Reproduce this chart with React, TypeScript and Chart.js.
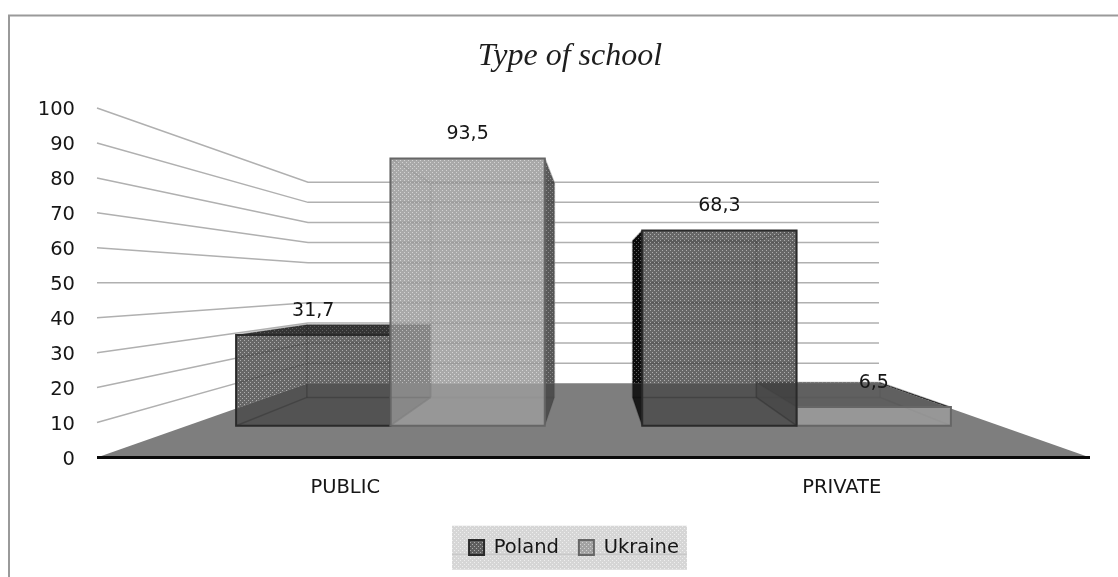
import { useEffect, useRef } from "react";
import { Chart, registerables } from "chart.js";

Chart.register(...registerables);

const categories = ["PUBLIC", "PRIVATE"];
const polandValues = [31.7, 68.3];
const ukraineValues = [93.5, 6.5];
const yTicks = { min: 0, max: 100, stepSize: 10 };

// Depth of each plane as a scale factor towards the vanishing point.
const WALL_DEPTH = 0.575;
const BAR_FRONT_DEPTH = 0.818;
const BAR_BACK_DEPTH = 0.656;
const HORIZON_VALUE = 50;
const LEGEND_SHIFT = 4;

const TEXT = "#161616";
const SANS = "'DejaVu Sans', sans-serif";

type Pt = [number, number];

// Small repeating stipple used where a face stands against the white background.
function stipple(base: string, dot: string) {
  const cell = document.createElement("canvas");
  cell.width = 4;
  cell.height = 4;
  const c = cell.getContext("2d")!;
  c.fillStyle = base;
  c.fillRect(0, 0, 4, 4);
  c.clearRect(0, 0, 1, 1);
  c.clearRect(2, 2, 1, 1);
  c.fillStyle = dot;
  c.fillRect(0, 0, 1, 1);
  c.fillRect(2, 2, 1, 1);
  return c.createPattern(cell, "repeat")!;
}

function tracePath(ctx: CanvasRenderingContext2D, pts: Pt[]) {
  ctx.beginPath();
  pts.forEach(([x, y], i) => (i ? ctx.lineTo(x, y) : ctx.moveTo(x, y)));
  ctx.closePath();
}

const perspective = {
  id: "perspective",
  afterLayout(chart: any) {
    // Tick labels stick out past the narrow axis box; widen the box they are clipped to.
    chart.scales.y.left = 20;
    // The legend sits slightly right of the title's centre line.
    const legend = chart.legend;
    legend.left += LEGEND_SHIFT;
    legend.right += LEGEND_SHIFT;
    legend.legendHitBoxes.forEach((b: any) => {
      b.left += LEGEND_SHIFT;
    });
  },
  beforeDraw(chart: any, _args: any, opts: any) {
    const { ctx, width, height } = chart;
    ctx.save();
    ctx.fillStyle = "#ffffff";
    ctx.fillRect(0, 0, width, height);
    ctx.strokeStyle = "#9a9a9a";
    ctx.lineWidth = 2;
    ctx.beginPath();
    ctx.moveTo(9, height);
    ctx.lineTo(9, 15.5);
    ctx.lineTo(width, 15.5);
    ctx.stroke();

    // Panel behind the legend entries.
    const boxes = chart.legend.legendHitBoxes;
    const left = Math.min(...boxes.map((b: any) => b.left)) - 17;
    const right = Math.max(...boxes.map((b: any) => b.left + b.width)) + 8;
    const top = boxes[0].top - 12;
    ctx.fillStyle = opts.panel;
    ctx.fillRect(left, top, right - left, 44);
    ctx.strokeStyle = "#c2c2c2";
    ctx.lineWidth = 1;
    ctx.beginPath();
    ctx.moveTo(left, top + 28.5);
    ctx.lineTo(right, top + 28.5);
    ctx.stroke();
    ctx.restore();
  },
  beforeDatasetsDraw(chart: any, _args: any, opts: any) {
    const { ctx, chartArea, scales } = chart;
    const yScale = scales.y;
    const vx = (chartArea.left + chartArea.right) / 2;
    const vy = yScale.getPixelForValue(HORIZON_VALUE);
    const project = (x: number, y: number, s: number): Pt => [vx + s * (x - vx), vy + s * (y - vy)];
    const base = yScale.getPixelForValue(0);

    ctx.save();

    // Side wall and back wall rules, one per value tick.
    ctx.strokeStyle = "#b0b0b0";
    ctx.lineWidth = 1.5;
    yScale.ticks.forEach((t: any) => {
      if (t.value === 0) return;
      const y = yScale.getPixelForValue(t.value);
      const a = project(chartArea.left, y, WALL_DEPTH);
      const b = project(chartArea.right, y, WALL_DEPTH);
      ctx.beginPath();
      ctx.moveTo(chartArea.left, y);
      ctx.lineTo(a[0], a[1]);
      ctx.lineTo(b[0], b[1]);
      ctx.stroke();
    });

    // Floor.
    const floor: Pt[] = [
      [chartArea.left, base],
      project(chartArea.left, base, WALL_DEPTH),
      project(chartArea.right, base, WALL_DEPTH),
      [chartArea.right, base],
    ];
    ctx.fillStyle = "#7e7e7e";
    tracePath(ctx, floor);
    ctx.fill();

    // A face is stippled against the white background and flat over the floor.
    const fillFace = (pts: Pt[], overWhite: any, overFloor: string) => {
      ctx.save();
      ctx.beginPath();
      ctx.rect(0, 0, chart.width, chart.height);
      floor.forEach(([x, y], i) => (i ? ctx.lineTo(x, y) : ctx.moveTo(x, y)));
      ctx.closePath();
      ctx.clip("evenodd");
      ctx.fillStyle = overWhite;
      tracePath(ctx, pts);
      ctx.fill();
      ctx.restore();
      ctx.save();
      tracePath(ctx, floor);
      ctx.clip();
      ctx.fillStyle = overFloor;
      tracePath(ctx, pts);
      ctx.fill();
      ctx.restore();
    };

    const drawBox = (datasetIndex: number, index: number) => {
      const el = chart.getDatasetMeta(datasetIndex).data[index];
      const look = opts.looks[datasetIndex];
      const value = chart.data.datasets[datasetIndex].data[index];
      const l = el.x - el.width / 2;
      const r = el.x + el.width / 2;
      const t = el.y;
      const b = el.base;
      const fTL = project(l, t, BAR_FRONT_DEPTH);
      const fTR = project(r, t, BAR_FRONT_DEPTH);
      const fBR = project(r, b, BAR_FRONT_DEPTH);
      const fBL = project(l, b, BAR_FRONT_DEPTH);
      const bTL = project(l, t, BAR_BACK_DEPTH);
      const bTR = project(r, t, BAR_BACK_DEPTH);
      const bBR = project(r, b, BAR_BACK_DEPTH);
      const bBL = project(l, b, BAR_BACK_DEPTH);

      // Hidden edges show through the translucent box.
      ctx.strokeStyle = look.backEdge;
      ctx.lineWidth = 1.5;
      [
        [bTL, bTR], [bTR, bBR], [bBR, bBL], [bBL, bTL],
        [fTL, bTL], [fTR, bTR], [fBL, bBL], [fBR, bBR],
      ].forEach(([p, q]) => {
        ctx.beginPath();
        ctx.moveTo(p[0], p[1]);
        ctx.lineTo(q[0], q[1]);
        ctx.stroke();
      });

      if (el.x < vx) fillFace([fTR, bTR, bBR, fBR], look.sideWhite, look.sideFloor);
      else fillFace([fTL, bTL, bBL, fBL], look.leftWhite, look.leftFloor);
      if (value < HORIZON_VALUE) fillFace([fTL, fTR, bTR, bTL], opts.topWhite, opts.topFloor);
      fillFace([fTL, fTR, fBR, fBL], look.frontWhite, look.frontFloor);

      ctx.strokeStyle = look.edge;
      ctx.lineWidth = 2;
      tracePath(ctx, [fTL, fTR, fBR, fBL]);
      ctx.stroke();
    };

    // Paint outer boxes first so the ones nearer the middle sit on top.
    drawBox(0, 0);
    drawBox(1, 0);
    drawBox(1, 1);
    drawBox(0, 1);

    // Front edge of the floor.
    ctx.strokeStyle = "#0a0a0a";
    ctx.lineWidth = 3;
    ctx.beginPath();
    ctx.moveTo(chartArea.left, base);
    ctx.lineTo(chartArea.right, base);
    ctx.stroke();

    // Value captions above each front face.
    ctx.fillStyle = TEXT;
    ctx.font = `19px ${SANS}`;
    ctx.textAlign = "center";
    ctx.textBaseline = "middle";
    chart.data.datasets.forEach((ds: any, di: number) => {
      chart.getDatasetMeta(di).data.forEach((el: any, i: number) => {
        const p = project(el.x, el.y, BAR_FRONT_DEPTH);
        ctx.fillText(String(ds.data[i]).replace(".", ","), p[0], p[1] - 24);
      });
    });

    ctx.restore();
    return false;
  },
};

export default function App() {
  const ref = useRef<HTMLCanvasElement>(null);

  useEffect(() => {
    document.body.style.margin = "0";
    const polandFront = stipple("rgba(65,65,65,0.8)", "rgba(165,165,165,0.9)");
    const ukraineFront = stipple("rgba(150,150,150,0.82)", "rgba(205,205,205,0.85)");

    const chart = new Chart(ref.current!, {
      type: "bar",
      data: {
        labels: categories,
        datasets: [
          {
            label: "Poland",
            data: polandValues,
            backgroundColor: polandFront,
            borderColor: "#2a2a2a",
            borderWidth: 2,
            categoryPercentage: 0.76,
            barPercentage: 1,
          },
          {
            label: "Ukraine",
            data: ukraineValues,
            backgroundColor: ukraineFront,
            borderColor: "#666666",
            borderWidth: 2,
            categoryPercentage: 0.76,
            barPercentage: 1,
          },
        ],
      },
      plugins: [perspective],
      options: {
        responsive: false,
        animation: false,
        layout: { padding: { left: 50, right: 28, top: 0, bottom: 9.75 } },
        scales: {
          x: {
            grid: { display: false, drawTicks: false },
            border: { display: false },
            afterFit: (s: any) => {
              s.height = 60.25;
            },
            ticks: { color: TEXT, font: { family: SANS, size: 19.5 }, padding: 19, maxRotation: 0 },
          },
          y: {
            ...yTicks,
            grid: { display: false, drawTicks: false },
            border: { display: false },
            afterFit: (s: any) => {
              s.width = 47;
            },
            ticks: {
              stepSize: yTicks.stepSize,
              color: TEXT,
              font: { family: SANS, size: 19.5 },
              padding: 22,
              labelOffset: 2,
            },
          },
        },
        plugins: {
          tooltip: { enabled: false },
          title: {
            display: true,
            text: "Type of school",
            color: "#1e1e1e",
            font: { family: "'Liberation Serif', serif", size: 32, style: "italic", weight: "normal" },
            padding: { top: 37.8, bottom: 31.8 },
          },
          legend: {
            display: true,
            position: "bottom",
            labels: {
              color: TEXT,
              boxWidth: 15,
              boxHeight: 15,
              padding: 20,
              font: { family: SANS, size: 19.5 },
            },
          },
          perspective: {
            panel: stipple("#d6d6d6", "#eeeeee"),
            topWhite: stipple("rgba(30,30,30,0.9)", "rgba(80,80,80,0.9)"),
            topFloor: "rgba(40,40,40,0.35)",
            looks: [
              {
                frontWhite: polandFront,
                frontFloor: "rgba(40,40,40,0.5)",
                sideWhite: stipple("rgba(40,40,40,0.9)", "rgba(90,90,90,0.9)"),
                sideFloor: "rgba(40,40,40,0.3)",
                leftWhite: stipple("rgba(0,0,0,0.95)", "rgba(90,90,90,0.95)"),
                leftFloor: "rgba(0,0,0,0.8)",
                edge: "#2a2a2a",
                backEdge: "rgba(50,50,50,0.4)",
              },
              {
                frontWhite: ukraineFront,
                frontFloor: "rgba(190,190,190,0.4)",
                sideWhite: stipple("rgba(60,60,60,0.85)", "rgba(120,120,120,0.85)"),
                sideFloor: "rgba(30,30,30,0.5)",
                leftWhite: "rgba(40,40,40,0.2)",
                leftFloor: "rgba(40,40,40,0.2)",
                edge: "#666666",
                backEdge: "rgba(110,110,110,0.45)",
              },
            ],
          },
        },
      } as any,
    });
    return () => chart.destroy();
  }, []);

  return <canvas ref={ref} width={1118} height={577} style={{ display: "block" }} />;
}
